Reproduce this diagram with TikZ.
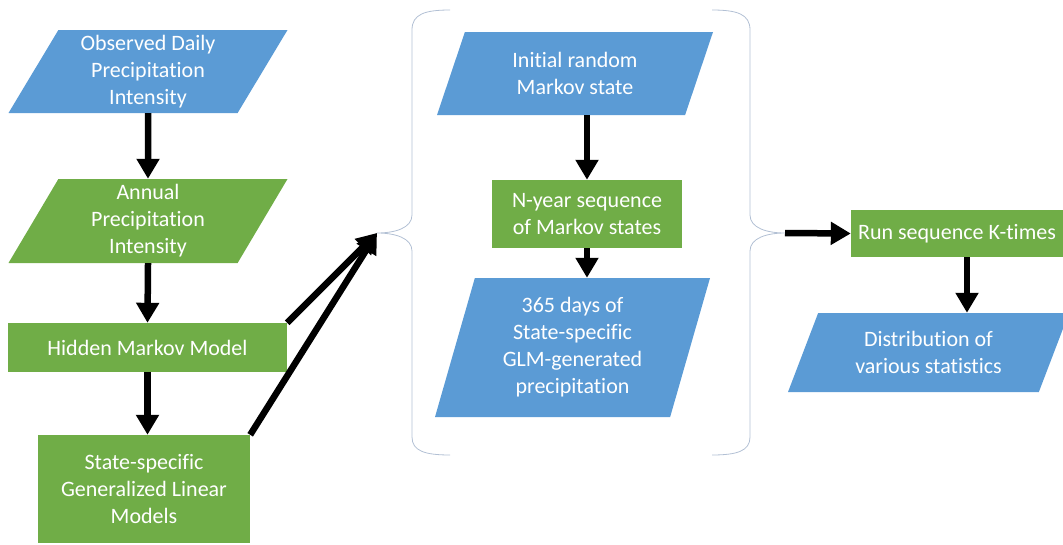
\documentclass[tikz,border=0pt]{standalone}
\usepackage{fontspec}
\setmainfont[Ligatures=NoCommon]{Carlito}
\usepackage{xcolor}
\usepackage{tikz}
\usetikzlibrary{positioning,calc,arrows.meta,shapes.geometric}
\definecolor{datablue}{RGB}{91,155,213}
\definecolor{procgreen}{RGB}{112,173,71}
\definecolor{bracegray}{RGB}{178,192,212}

\begin{document}
\begin{tikzpicture}[x=1pt,y=-1pt,
		box/.style={fill=#1,draw=none,text=white,align=center,inner sep=2pt,
			font=\fontsize{22}{27}\selectfont},
		procbox/.style={box=procgreen,rectangle},
		databox/.style 2 args={box=datablue,trapezium,trapezium left angle=#1,
			trapezium right angle=#2,trapezium stretches body},
		flow/.style={line width=6.5pt,-{Triangle[length=20pt,width=22pt]}},
		curly/.style={bracegray,line width=0.8pt}]
	\useasboundingbox (0,0) rectangle (1063,544);
	
	% Cột trái
	\node[databox={57}{123},minimum width=279pt,minimum height=83pt] (obs) at (148,71.5)
		{Observed Daily\\Precipitation\\Intensity};
	\node[databox={57}{123},minimum width=279pt,minimum height=84pt,fill=procgreen] (ann) at (148,221)
		{Annual\\Precipitation\\Intensity};
	\node[procbox,minimum width=279pt,minimum height=49pt] (hmm) at (147.5,347.5)
		{Hidden Markov Model};
	\node[procbox,minimum width=212pt,minimum height=108pt] (glm) at (144,489)
		{State-specific\\Generalized Linear\\Models};
	
	% Cột giữa
	\node[databox={59}{121},minimum width=276pt,minimum height=83pt] (init) at (575,73.5)
		{Initial random\\Markov state};
	\node[procbox,minimum width=190pt,minimum height=68pt] (nyr) at (587,214)
		{N-year sequence\\of Markov states};
	\node[databox={69}{111},minimum width=275pt,minimum height=139pt] (days) at (572.5,347.5)
		{365 days of\\State-specific\\GLM-generated\\precipitation};
	
	% Cột phải
	\node[procbox,minimum width=212pt,minimum height=47pt] (run) at (957,233.5)
		{Run sequence K-times};
	\node[databox={57}{123},minimum width=281pt,minimum height=79pt] (dist) at (928.5,352.5)
		{Distribution of\\various statistics};
	
	% Ngoặc nhọn
	\coordinate (ltip) at (377,233);
	\coordinate (rtip) at (785,233);
	\draw[curly] (450,10) .. controls (425,10) and (412,14) .. (412,30) -- (412,215)
		.. controls (412,228) and (395,233) .. (ltip)
		.. controls (395,233) and (412,238) .. (412,251) -- (412,437)
		.. controls (412,451) and (425,455) .. (450,455);
	\draw[curly] (712,10) .. controls (737,10) and (750,14) .. (750,30) -- (750,215)
		.. controls (750,228) and (767,233) .. (rtip)
		.. controls (767,233) and (750,238) .. (750,251) -- (750,437)
		.. controls (750,451) and (737,455) .. (712,455);
	
	% Mũi tên
	\draw[flow] (obs.south) -- (ann.north);
	\draw[flow] (ann.south) -- (hmm.north);
	\draw[flow] (hmm.south) -- (hmm.south |- glm.north);
	\draw[flow] (hmm.north east) -- (ltip);
	\draw[flow] (glm.north east) -- (ltip);
	\draw[flow] (nyr.north |- init.south) -- (nyr.north);
	\draw[flow] (nyr.south) -- (nyr.south |- days.north);
	\draw[flow] (rtip) -- (run.west);
	\draw[flow] ([xshift=10pt]run.south) -- ([xshift=10pt]run.south |- dist.north);
\end{tikzpicture}
\end{document}
